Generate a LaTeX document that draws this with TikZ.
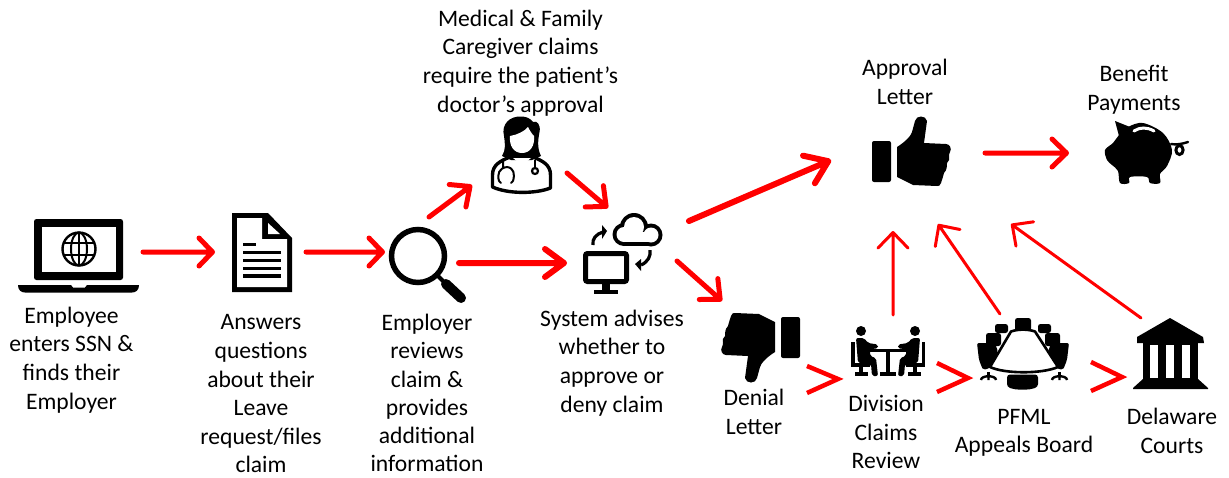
\documentclass[tikz,border=0pt]{standalone}
\usepackage{fontspec}
\setmainfont{Carlito}
\usetikzlibrary{calc}
\definecolor{arrowred}{HTML}{FF0000}
\newcommand{\headedline}[6]{% start, tip, line width, pull-back, head length, half width
  \draw[draw=arrowred,line width=#3pt,line cap=round,line join=round]
    (#1) -- ($(#2)!#4pt!(#1)$)
    ($($(#2)!#5pt!(#1)$)!#6pt!90:(#2)$) -- ($(#2)!#4pt!(#1)$) -- ($($(#2)!#5pt!(#1)$)!#6pt!-90:(#2)$);
}
\tikzset{
  x=1pt,y=-1pt,
  lab/.style={align=center,inner sep=0pt,font=\fontsize{23.6}{28.6}\selectfont,text=black},
  chevron/.style={draw=arrowred,line width=4.5pt,miter limit=10},
  pics/thumb/.style={code={
    \fill[black,rounded corners=2pt] (-49,-23) rectangle (-30,18);
    \fill[black] (-24,-17) .. controls (-16,-22) and (-10,-28) .. (-9,-32)
      -- (-6,-43) .. controls (-5,-49) and (5,-49) .. (6,-43)
      -- (3,-21) -- (25,-20)
      .. controls (29,-20) and (31,-15) .. (29,-12)
      .. controls (28,-10) and (28,-9) .. (28,-8)
      .. controls (29,-5) and (28,-3) .. (26,-1)
      .. controls (26,2) and (26,6) .. (23,9)
      .. controls (22,13) and (21,16) .. (20,19)
      .. controls (19,22) and (18,22) .. (16,22)
      -- (-8,21) -- (-24,13) -- cycle;
  }},
}
\begin{document}
\begin{tikzpicture}
\useasboundingbox (0,0) rectangle (1229,477);
\fill[white] (0,0) rectangle (1229,477);

% ---- laptop
\fill[black,rounded corners=2.5pt] (34,219) rectangle (123,280);
\fill[white] (42,227) rectangle (116,272);
\fill[black] (18,285) -- (71,285) -- (73,287.5) -- (85,287.5) -- (87,285) -- (139,285)
  .. controls (139,290) and (136,292.5) .. (132,292.5) -- (25,292.5) .. controls (21,292.5) and (18,290) .. (18,285) -- cycle;
\begin{scope}[draw=black,line width=2pt]
  \draw[line width=2.4pt] (79,249) circle (16.5);
  \draw (79,249) ellipse (8 and 16.5);
  \draw (79,232.5) -- (79,265.5);
  \draw (64,243) -- (94,243) (64,255) -- (94,255);
\end{scope}

% ---- document
\fill[black] (232,213) -- (268,213) -- (292,238) -- (292,292) -- (232,292) -- cycle;
\fill[white] (237,218) -- (262,218) -- (262,239) -- (287,239) -- (287,287) -- (237,287) -- cycle;
\fill[white] (268,223) -- (280,234) -- (268,234) -- cycle;
\fill[black] (243,242.5) rectangle (256,246);
\foreach \yy in {250.5,258.5,266.5,274} {\fill[black] (243,\yy) rectangle (281,\yy+3.6);}

% ---- magnifier
\draw[black,line width=5.5pt] (418,256) circle (26.5);
\draw[black,line width=4pt] (437,275) -- (446,284);
\draw[black,line width=10pt,line cap=round] (446,284) -- (461,298);

% ---- doctor
\filldraw[fill=white,draw=black,line width=3.4pt,line join=round]
  (492.5,187) -- (492.5,175) .. controls (492.5,165) and (500,161) .. (510,157)
  -- (533,157) .. controls (543,161) and (550.5,165) .. (550.5,175)
  -- (550.5,188) .. controls (535,194) and (508,194) .. (492.5,187) -- cycle;
\fill[black] (502,156) .. controls (506,150) and (505,143) .. (504,136)
  .. controls (501,124) and (510,116) .. (521,116.5)
  .. controls (526,116.5) and (530,118) .. (533,122)
  .. controls (537,120) and (541,125) .. (539.5,132)
  .. controls (538,140) and (537,148) .. (541,156)
  -- (532,160) -- (511,160) -- cycle;
\fill[white] (510,136) .. controls (517,135) and (525,131) .. (528,127)
  .. controls (530,131) and (532,134) .. (534,136)
  .. controls (535,146) and (530,153) .. (522,153)
  .. controls (514,153) and (509,146) .. (510,136) -- cycle;
\fill[white] (513,158) -- (531,158) -- (526,162) -- (518,162) -- cycle;
\draw[black,line width=2pt,line cap=round]
  (503,161) -- (503,168) (499,181) .. controls (497,174) and (499,168) .. (507,167)
  .. controls (514,168) and (515,174) .. (513,181)
  (499,181) -- (501,183) (513,181) -- (511,183);
\draw[black,line width=1.8pt] (535,160) -- (535,167);
\draw[black,line width=2.2pt] (535,171) circle (3);

% ---- system (monitor + cloud)
\draw[black,line width=5pt,rounded corners=2pt] (585.5,253.5) rectangle (626.5,281.5);
\fill[black] (602,284) rectangle (610,291);
\fill[black] (594,289.5) rectangle (618,294);
\fill[black] (634,227) circle (14);
\fill[black] (624,234.5) circle (11.5);
\fill[black] (651,235) circle (11.5);
\fill[black] (624,232) rectangle (651,246);
\fill[white] (634,227) circle (10);
\fill[white] (624,234.5) circle (7.5);
\fill[white] (651,235) circle (7.5);
\fill[white] (624,232) rectangle (651,242);
\draw[black,line width=3.2pt] (593,245) .. controls (592,239) and (596,234) .. (603,232);
\fill[black] (607,231) -- (602,225) -- (602,239) -- cycle;
\draw[black,line width=3.2pt] (650,250) .. controls (651,256) and (648,262) .. (641,265);
\fill[black] (635,264) -- (641,259) -- (641,271) -- cycle;

% ---- thumbs
\path (921,164) pic {thumb};
\path (751,335) pic[rotate=180] {thumb};

% ---- piggy
\fill[black] (1115,121) -- (1130,127) -- (1119,136) -- cycle;
\fill[black] plot[smooth cycle,tension=.55] coordinates {
  (1128,127) (1143,123) (1163,133) (1172,150) (1167,166) (1160,174)
  (1160,183) (1150,183) (1147,177) (1130,177) (1129,183) (1120,183) (1118,171)
  (1112,165) (1107,160) (1105,150) (1113,143) (1119,135)};
\draw[white,line width=3pt,line cap=round] (1134,131) .. controls (1140,127) and (1147,127) .. (1154,131);
\draw[black,line width=2.4pt,line cap=round] (1171,144) .. controls (1176,145) and (1182,144) .. (1188,142);
\draw[black,line width=3pt] (1179.5,150) ellipse (3.6 and 4.5);

% ---- division claims review (two seated people)
\fill[black] (861,331) circle (5);
\fill[black] (915,331) circle (5);
\fill[black,rounded corners=2pt] (856,338) -- (864,338) -- (868,343) -- (878,344.5) -- (878,348.5) -- (870,349) -- (870,356) -- (876,358) -- (878,376) -- (872,376) -- (871,364) -- (858,363) -- cycle;
\fill[black,rounded corners=2pt] (920,338) -- (912,338) -- (908,343) -- (898,344.5) -- (898,348.5) -- (906,349) -- (906,356) -- (900,358) -- (898,376) -- (904,376) -- (905,364) -- (918,363) -- cycle;
\fill[black] (851,342) rectangle (854.5,366);
\fill[black] (851,363) rectangle (870,367);
\fill[black] (859,367) rectangle (863,373);
\fill[black] (855,372) rectangle (868,376);
\fill[black] (921.5,342) rectangle (925,366);
\fill[black] (906,363) rectangle (925,367);
\fill[black] (913,367) rectangle (917,373);
\fill[black] (908,372) rectangle (921,376);
\fill[black] (870,348.5) rectangle (906,352);
\fill[black] (886,351) rectangle (890,373);
\fill[black] (880,372) rectangle (896,376);

% ---- conference table
\fill[black,rounded corners=2.5pt] (1015,318) rectangle (1031,331);
\fill[black,rounded corners=2.5pt] (995,324) rectangle (1008,333);
\fill[black,rounded corners=2.5pt] (1038,324) rectangle (1051,333);
\fill[black,rounded corners=2.5pt] (986,333) rectangle (1001,346);
\fill[black,rounded corners=2.5pt] (1045,333) rectangle (1060,346);
\fill[black,rounded corners=2pt] (977,343) -- (995,343) -- (998,352) -- (990,368) -- (983,370) -- (979,360) -- cycle;
\fill[black,rounded corners=2pt] (1069,343) -- (1051,343) -- (1048,352) -- (1056,368) -- (1063,370) -- (1067,360) -- cycle;
\filldraw[fill=white,draw=black,line width=2.6pt,line join=round]
  (1011,331.5) .. controls (1018,329) and (1028,329) .. (1035,331.5)
  -- (1058,367) .. controls (1042,374) and (1005,374) .. (990,367) -- cycle;
\fill[black,rounded corners=3pt] (1007,374.5) -- (1038,374.5) -- (1038,387) -- (1030,389.5) -- (1015,389.5) -- (1007,387) -- cycle;
\foreach \cx in {987,1058} {
  \fill[black] (\cx,372) rectangle (\cx+3,376);
  \draw[black,line width=2.4pt] (\cx-6,380) .. controls (\cx-6,375) and (\cx+9,375) .. (\cx+9,380) (\cx+1.5,376) -- (\cx+1.5,380);
}

% ---- courts
\fill[black] (1170,318) -- (1203,337) -- (1204,343) -- (1137,343) -- (1137,337) -- cycle;
\fill[black] (1143,343) rectangle (1198,380);
\fill[white] (1150,345) rectangle (1158,378);
\fill[white] (1166,345) rectangle (1174,378);
\fill[white] (1182,345) rectangle (1190,378);
\fill[black] (1143,379) -- (1198,379) -- (1208,388) -- (1208,389) -- (1133,389) -- (1133,388) -- cycle;

% ---- labels
\node[lab] (lblemployee) at (71.5,360) {Employee\\enters SSN \&\\finds their\\Employer};
\node[lab] (lblanswers) at (261,394) {Answers\\questions\\about their\\Leave\\request/files\\claim};
\node[lab,font=\fontsize{23.6}{28.2}\selectfont] (lblreview) at (427,393) {Employer\\reviews\\claim \&\\provides\\additional\\information};
\node[lab] (lblmedical) at (520.5,63) {Medical \& Family\\Caregiver claims\\require the patient’s\\doctor’s approval};
\node[lab] (lblsystem) at (612,363) {System advises\\whether to\\approve or\\deny claim};
\node[lab] (lblapproval) at (905,82) {Approval\\Letter};
\node[lab] (lblbenefit) at (1134,90) {Benefit\\Payments};
\node[lab] (lbldenial) at (754,412) {Denial\\Letter};
\node[lab] (lbldivision) at (886,432) {Division\\Claims\\Review};
\node[lab] (lblpfml) at (1024,433) {PFML\\Appeals Board};
\node[lab] (lblcourts) at (1172,431) {Delaware\\Courts};

% ---- connector end points
\coordinate (laptopout) at (143,252);
\coordinate (docin) at (215,252);
\coordinate (docout) at (306,252);
\coordinate (lensin) at (385,252);
\coordinate (lensup) at (429,217);
\coordinate (docin2) at (472,185);
\coordinate (doctorout) at (567,173);
\coordinate (sysin1) at (608,208);
\coordinate (lensout) at (459,263);
\coordinate (sysin2) at (567,263);
\coordinate (sysup) at (689,221);
\coordinate (approvein) at (831,160);
\coordinate (sysdown) at (677,261);
\coordinate (denyin) at (722,301);
\coordinate (approveout) at (985,153);
\coordinate (piggyin) at (1069,153);
\coordinate (divup) at (893,315);
\coordinate (approvea) at (893,231);
\coordinate (boardup) at (1000,314);
\coordinate (approveb) at (938,224);
\coordinate (courtup) at (1141,318);
\coordinate (approvec) at (1011,224);
\coordinate (dena) at (807,366);
\coordinate (dentip) at (838,379);
\coordinate (denb) at (807,393);
\coordinate (diva) at (937,363);
\coordinate (divtip) at (968,378);
\coordinate (divb) at (937,392);
\coordinate (boa) at (1091,362);
\coordinate (botip) at (1122,377);
\coordinate (bob) at (1091,391);

% ---- connectors
\headedline{laptopout}{docin}{5}{2.5}{16}{14}
\headedline{docout}{lensin}{5}{2.5}{16}{14}
\headedline{lensup}{docin2}{5}{2.5}{18}{14}
\headedline{doctorout}{sysin1}{5}{2.5}{18}{14}
\headedline{lensout}{sysin2}{6}{3}{22}{14}
\headedline{sysup}{approvein}{6}{3}{24}{15}
\headedline{sysdown}{denyin}{5}{2.5}{18}{14}
\headedline{approveout}{piggyin}{5}{2.5}{17}{14}
\headedline{divup}{approvea}{3}{1.5}{17}{15}
\headedline{boardup}{approveb}{3}{1.5}{17}{15}
\headedline{courtup}{approvec}{3}{1.5}{17}{15}
\draw[chevron] (dena) -- (dentip) -- (denb);
\draw[chevron] (diva) -- (divtip) -- (divb);
\draw[chevron] (boa) -- (botip) -- (bob);
\end{tikzpicture}
\end{document}
